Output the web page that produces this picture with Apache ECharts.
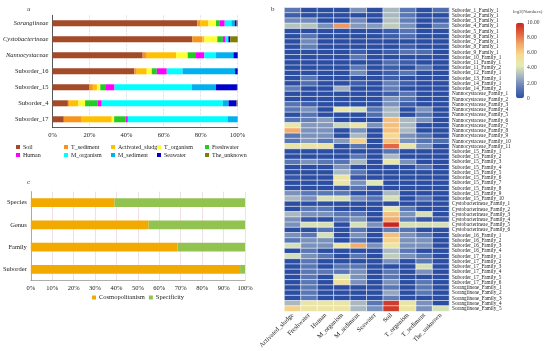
<!DOCTYPE html>
<html><head><meta charset="utf-8">
<script src="https://cdn.jsdelivr.net/npm/echarts@6/dist/echarts.min.js"></script>
<style>html,body{margin:0;padding:0;background:#fff}#c{width:550px;height:351px}</style>
</head><body><div id="c"></div><script>
// ---------- Panel a data ----------
const categoriesA = ['Sorangiineae','Cystobacterineae','Nannocystaceae','Suborder_16','Suborder_15','Suborder_4','Suborder_17'];
const italicTaxa = ['Sorangiineae','Cystobacterineae','Nannocystaceae'];
const sourcesA = ['Soil','T_sediment','Activated_sludge','T_organism','Freshwater','Human','M_organism','M_sediment','Seawater','The_unknown'];
const soil            = [78.2, 75.5, 48.7, 44.2, 20.0,  8.3,  6.1];
const tSediment       = [ 1.5,  5.5,  2.2,  1.3,  1.8,  0.7,  9.7];
const activatedSludge = [ 4.5,  1.0, 15.8,  5.4,  2.2,  5.0, 16.2];
const tOrganism       = [ 4.1,  7.0,  6.3,  2.7,  1.8,  3.6,  1.3];
const freshwater      = [ 1.8,  3.0,  4.5,  2.7,  2.7,  6.7,  6.1];
const human           = [ 2.9,  1.5,  4.5,  5.4,  5.0,  2.3,  1.3];
const mOrganism       = [ 3.6,  1.0,  6.3,  8.5, 41.7, 65.3, 53.8];
const mSediment       = [ 1.8,  0.5,  9.4, 28.4, 13.1,  3.2,  5.6];
const seawater        = [ 1.0,  1.0,  2.3,  1.4, 11.3,  4.3,  0.0];
const theUnknown      = [ 0.6,  4.0,  0.0,  0.0,  0.4,  0.6,  0.0];
const seriesA = [soil,tSediment,activatedSludge,tOrganism,freshwater,human,mOrganism,mSediment,seawater,theUnknown];
const colorsA = ['#a34a28','#f7941d','#ffc000','#ffff33','#22cc22','#ff00ff','#00ffff','#00b0f0','#0000cc','#808000'];
const ticksA = [0,20,40,60,80,100];

// ---------- Panel c data ----------
const categoriesC = ['Species','Genus','Family','Suborder'];
const cosmopolitanism = [39.1, 55.0, 68.5, 97.7];
const specificity     = [60.9, 45.0, 31.5,  2.3];
const ticksC = [0,10,20,30,40,50,60,70,80,90,100];

// ---------- Panel b data ----------
const envB = ['Activated_sludge','Freshwater','Human','M_organism','M_sediment','Seawater','Soil','T_organism','T_sediment','The_unknown'];
const familiesB = [
 'Suborder_1_Family_1','Suborder_2_Family_1','Suborder_3_Family_1','Suborder_4_Family_1','Suborder_5_Family_1',
 'Suborder_6_Family_1','Suborder_7_Family_1','Suborder_8_Family_1','Suborder_9_Family_1','Suborder_10_Family_1',
 'Suborder_11_Family_1','Suborder_11_Family_2','Suborder_12_Family_1','Suborder_13_Family_1','Suborder_14_Family_1',
 'Suborder_14_Family_2',
 'Nannocystaceae_Family_1','Nannocystaceae_Family_2','Nannocystaceae_Family_3','Nannocystaceae_Family_4',
 'Nannocystaceae_Family_5','Nannocystaceae_Family_6','Nannocystaceae_Family_7','Nannocystaceae_Family_8',
 'Nannocystaceae_Family_9','Nannocystaceae_Family_10','Nannocystaceae_Family_11',
 'Suborder_15_Family_1','Suborder_15_Family_2','Suborder_15_Family_3','Suborder_15_Family_4','Suborder_15_Family_5',
 'Suborder_15_Family_6','Suborder_15_Family_7','Suborder_15_Family_8','Suborder_15_Family_9','Suborder_15_Family_10',
 'Cystobacterineae_Family_1','Cystobacterineae_Family_2','Cystobacterineae_Family_3','Cystobacterineae_Family_4',
 'Cystobacterineae_Family_5','Cystobacterineae_Family_6',
 'Suborder_16_Family_1','Suborder_16_Family_2','Suborder_16_Family_3','Suborder_16_Family_4',
 'Suborder_17_Family_1','Suborder_17_Family_2','Suborder_17_Family_3','Suborder_17_Family_4','Suborder_17_Family_5','Suborder_17_Family_6',
 'Sorangiineae_Family_1','Sorangiineae_Family_2','Sorangiineae_Family_3','Sorangiineae_Family_4','Sorangiineae_Family_5'
];
const log2Numbers = [
 [1.3,0,0,0,2,0,3,1.3,0,1],
 [0.5,0,0,0,0,0,3,1.3,0,0],
 [1.8,1.8,0,0,1.8,0,3.2,1.5,0,0.5],
 [3.3,3.3,2,7.5,2.2,2.2,3.5,2,0,1.5],
 [0,0,0,0,0,0,0.5,1.2,0,0],
 [0,1.2,0,0,0,0,0.5,1.0,0,0],
 [0,1.8,0,0,0,0,0,0,0,0],
 [0,1.5,0,0,0,0,0,0.5,0,0],
 [0,0,0,0,0.5,0,0.5,1.2,1,0],
 [0,0,0,0,1.3,0,0,0,0,0],
 [0,0,0,0,0,0,1,0.5,0,0],
 [0,0,0,0,1.3,0,0.5,0,1.2,0],
 [0,0,0,0,1.8,0,0.5,1.2,0,0],
 [0,1.2,0,0,0,0,0.5,0,0,0],
 [0,1,0,0,0.5,0,1.5,0.5,0,0],
 [1.5,0,0,2.8,0,0,1.5,0,0,0],
 [0,0,0,0,0,0,0.5,1.2,0,0],
 [0,0,0,0,0,0,2,1.2,0,0],
 [1.2,0.5,0,0,0,0,2,0.5,0,0],
 [1.3,2,0,4.8,4,1.2,3,0,2,0],
 [0,1.2,0,0,0,1,3,0,1.2,0],
 [1.2,1.5,2.3,0,0,0,6.5,3,2,0],
 [4.8,2.2,2.2,3.8,4.8,2,6.5,3,0,0],
 [7,2,2,0,2,0,6.5,3,0,0],
 [1.3,2,2,0,3,0,5.8,2,1.2,0],
 [1.3,2.2,1.3,2.2,6,0,6.5,2,1.2,1],
 [5,5,5,0,1.3,0,8.5,4.8,2,0],
 [0,0,0,0,0,0,1.2,0,0,0],
 [0,0,0,0,1.3,0,3,0,0,0],
 [1.3,2,1.3,1.2,3,0,4.8,2,0,0],
 [0,0,0,2,0,0,0,0,1.2,0],
 [0,0,0,3,1.3,0,0,0,0,0],
 [0.3,0,0,5,0.3,0,0,0,0,0],
 [0,0,0,5,2,4.2,0,0,0,0],
 [0,0,0,0.3,1.2,0,0,0,0,0],
 [2,1.3,1.3,1.3,0,0,3,0,0,0],
 [3,2,4,4,2,1.2,4,0,1.2,0],
 [0,0,0,0,0,0,0,0,0,0],
 [0,1.3,1.3,0,0,0,4.5,1.3,0,0],
 [3,2,2,1.3,1.3,0,6.5,2,4,0],
 [2,0.3,0,1.3,2,0,7,1.5,0.3,0.3],
 [2,4,4,0,4,2,10,4,4,4],
 [0,0,1.2,0,1.2,0,1.5,1.2,0,0],
 [2,1.3,4,0,2,0,6.5,2,1.3,0],
 [1.3,2,2,0,1.3,0,6,2,2,0],
 [4,2,2,5,7,2,5,2,2,0],
 [0,1.3,0,0,0,0,3,1.3,0,0],
 [4,2,1.3,0,1.3,0,3.5,2,1.3,0],
 [0,1.3,0,0,0,0,2,0,1.3,0],
 [0,1.3,0,1.3,1.3,0,0,0,4,0],
 [0,1.3,1.3,1.3,2,0,1.3,0,2,0],
 [0,1.3,0,4.2,2,0,1.3,0,0,0],
 [0,1.3,0,5.5,2,0,2,0,1.3,0],
 [0,1.3,0,0,0,0,1.3,0,1.3,0],
 [0,1.3,0,0,0,0,2.5,0,1.3,0],
 [0,1.3,0,0,0,0,1.5,0,0,0],
 [3,5,5,5,3,1.3,9.5,5,2,0],
 [6,5,5,5,3,2,9.5,5,2,4]
];
const colorbarTicks = [0,2,4,6,8,10];

// ---------- build ----------
const FONT = 'Liberation Serif';
const heatData = [];
log2Numbers.forEach((row, r) => row.forEach((v, c) => heatData.push([c, r, v])));

const series = [];
seriesA.forEach((arr, i) => series.push({
  name: sourcesA[i], type: 'bar', stack: 'a', xAxisIndex: 0, yAxisIndex: 0,
  barWidth: 6, data: arr, itemStyle: {color: colorsA[i]}, silent: true
}));
series.push({name:'Cosmopolitanism', type:'bar', stack:'c', xAxisIndex:1, yAxisIndex:1, barWidth:8.7,
  data: cosmopolitanism, itemStyle:{color:'#f2a900'}, silent:true});
series.push({name:'Specificity', type:'bar', stack:'c', xAxisIndex:1, yAxisIndex:1, barWidth:8.7,
  data: specificity, itemStyle:{color:'#92c350'}, silent:true});
const heatIndex = series.length;
series.push({type:'heatmap', xAxisIndex:2, yAxisIndex:2, data: heatData,
  itemStyle:{borderColor:'#ffffff', borderWidth:0.6}, emphasis:{disabled:true}, silent:true});

const legendCols = [[0,5],[1,6],[2,7],[3,8],[4,9]];
const legendLefts = [16, 64, 111, 157, 205];
const legends = legendCols.map((idx, k) => ({
  data: idx.map(i => sourcesA[i]), orient:'vertical', left: legendLefts[k], top: 144,
  itemWidth: 4, itemHeight: 4, itemGap: 2, icon:'rect', padding:0, selectedMode:false,
  textStyle:{fontSize:6, fontFamily:FONT, color:'#222', padding:[0,0,0,-2], lineHeight:6}
}));
legends.push({data:['Cosmopolitanism','Specificity'], orient:'horizontal', left: 92, top: 294,
  itemWidth:4, itemHeight:4, itemGap:4, icon:'rect', padding:0, selectedMode:false,
  textStyle:{fontSize:6.5, fontFamily:FONT, color:'#222', padding:[0,0,0,-2]}});

const option = {
  animation: false,
  backgroundColor: '#ffffff',
  textStyle: {fontFamily: FONT},
  title: [
    {text:'a', left:22, top:1, textStyle:{fontSize:7, fontWeight:'normal', fontFamily:FONT, color:'#333'}},
    {text:'b', left:266, top:1, textStyle:{fontSize:7, fontWeight:'normal', fontFamily:FONT, color:'#333'}},
    {text:'c', left:22, top:174, textStyle:{fontSize:7, fontWeight:'normal', fontFamily:FONT, color:'#333'}},
    {text:'log2(Numbers)', left:513, top:9, padding:0, textStyle:{fontSize:4.8, fontWeight:'normal', fontFamily:FONT, color:'#444'}}
  ],
  legend: legends,
  grid: [
    {left:52.3, width:185.4, top:15.3, height:112},
    {left:26, width:219, top:191.6, height:88.8},
    {left:284.5, width:164.5, top:7.7, height:305.5},
    {left:516, width:8, top:22.7, height:75.6}
  ],
  xAxis: [
    {gridIndex:0, type:'value', min:0, max:100, interval:20,
     axisLabel:{formatter:'{value}%', fontSize:6.5, fontFamily:FONT, color:'#222', margin:4},
     axisLine:{show:true, lineStyle:{color:'#333', width:0.8}}, axisTick:{show:false},
     splitLine:{show:true, lineStyle:{color:'#d0d0d0', type:'dashed', width:0.6}}},
    {gridIndex:1, type:'value', min:0, max:100, interval:10,
     axisLabel:{formatter:'{value}%', fontSize:6.5, fontFamily:FONT, color:'#222', margin:4},
     axisLine:{show:true, lineStyle:{color:'#999', width:0.8}}, axisTick:{show:false},
     splitLine:{show:true, lineStyle:{color:'#ecd6e2', width:0.8}}},
    {gridIndex:2, type:'category', data: envB, position:'bottom',
     axisLabel:{rotate:45, fontSize:6.5, fontFamily:FONT, color:'#222', margin:3, interval:0},
     axisLine:{show:false}, axisTick:{show:false}, splitArea:{show:false}},
    {gridIndex:3, type:'value', show:false, min:0, max:1}
  ],
  yAxis: [
    {gridIndex:0, type:'category', data: categoriesA, inverse:true,
     axisLabel:{fontSize:6.5, fontFamily:FONT, color:'#222', margin:4,
       formatter: v => italicTaxa.includes(v) ? '{i|' + v + '}' : v,
       rich:{i:{fontStyle:'italic', fontSize:6.5, fontFamily:FONT, color:'#222'}}},
     axisLine:{show:true, lineStyle:{color:'#333', width:0.8}}, axisTick:{show:false}},
    {gridIndex:1, type:'category', data: categoriesC, inverse:true,
     axisLabel:{fontSize:6.5, fontFamily:FONT, color:'#222', margin:4},
     axisLine:{show:true, lineStyle:{color:'#999', width:0.8}}, axisTick:{show:false}},
    {gridIndex:2, type:'category', data: familiesB, inverse:true, position:'right',
     axisLabel:{fontSize:5.2, fontFamily:FONT, color:'#222', margin:3, interval:0},
     axisLine:{show:false}, axisTick:{show:false}, splitArea:{show:false}},
    {gridIndex:3, type:'value', position:'right', min:0, max:10, interval:2,
     axisLabel:{fontSize:5.5, fontFamily:FONT, color:'#444', margin:3,
       formatter: v => v === 0 ? '0' : v.toFixed(2)},
     axisLine:{show:false}, axisTick:{show:false}, splitLine:{show:false}}
  ],
  visualMap: {
    type:'continuous', min:0, max:10, seriesIndex: heatIndex, orient:'vertical',
    left:516, top:22.7, itemWidth:8, itemHeight:75.6, padding:0, calculable:false,
    hoverLink:false, showLabel:false, text:null,
    inRange:{color:['#2b4ea3','#5e7bb6','#a4b3c2','#e2ebb4','#f6dc92','#f3a96a','#e2633f','#c8261f']}
  },
  series: series
};
const chart = echarts.init(document.getElementById('c'), null, {renderer:'canvas'});
chart.setOption(option);
</script></body></html>
